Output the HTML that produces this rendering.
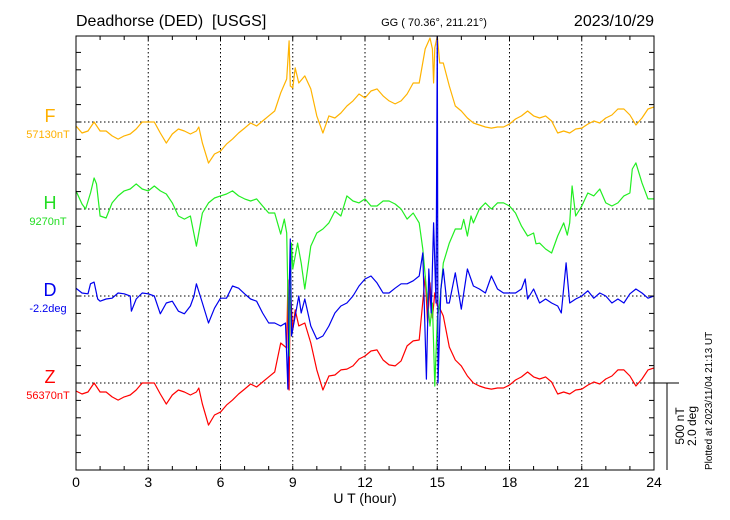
<!DOCTYPE html>
<html><head><meta charset="utf-8"><style>
html,body{margin:0;padding:0;background:#fff;}
svg{display:block;font-family:"Liberation Sans",sans-serif;}
</style></head><body>
<svg id="chart" width="730" height="520" viewBox="0 0 730 520">
<text x="76" y="26" font-size="16" xml:space="preserve" style="white-space:pre">Deadhorse (DED)  [USGS]</text>
<text x="434" y="26" font-size="11" text-anchor="middle">GG ( 70.36°, 211.21°)</text>
<text x="654" y="26" font-size="16" text-anchor="end">2023/10/29</text>
<g id="grid"></g>
<defs><clipPath id="clip"><rect x="76" y="36" width="578" height="434"/></clipPath></defs>
<g id="series" clip-path="url(#clip)"></g>
<rect x="76" y="36" width="578" height="434" fill="none" stroke="#000" stroke-width="1"/>
<g id="ticks"></g>
<text x="50" y="122" font-size="18" fill="#ffb000" text-anchor="middle">F</text>
<text x="48" y="138" font-size="11" fill="#ffb000" text-anchor="middle">57130nT</text>
<text x="50" y="209" font-size="18" fill="#22dd22" text-anchor="middle">H</text>
<text x="48" y="225" font-size="11" fill="#22dd22" text-anchor="middle">9270nT</text>
<text x="50" y="296" font-size="18" fill="#0000ee" text-anchor="middle">D</text>
<text x="48" y="312" font-size="11" fill="#0000ee" text-anchor="middle">-2.2deg</text>
<text x="50" y="383" font-size="18" fill="#ff0000" text-anchor="middle">Z</text>
<text x="48" y="399" font-size="11" fill="#ff0000" text-anchor="middle">56370nT</text>
<text x="365" y="503" font-size="14" text-anchor="middle">U T (hour)</text>
<g>
<line x1="654" y1="383" x2="679" y2="383" stroke="#000"/>
<line x1="667" y1="383" x2="667" y2="470" stroke="#000"/>
<text transform="translate(684,426) rotate(-90)" font-size="12" text-anchor="middle">500 nT</text>
<text transform="translate(696,426) rotate(-90)" font-size="12" text-anchor="middle">2.0 deg</text>
</g>
<text transform="translate(712,470) rotate(-90)" font-size="10">Plotted at 2023/11/04 21:13 UT</text>
</svg>
<script>
const xTicks=[0,3,6,9,12,15,18,21,24];
const fT=[0,.25,.5,.75,1,1.25,1.5,1.75,2,2.25,2.5,2.75,3,3.25,3.5,3.75,4,4.25,4.5,4.75,5,5.1,5.25,5.5,5.75,6,6.25,6.5,6.75,7,7.25,7.5,7.75,8,8.25,8.5,8.75,8.85,8.9,9,9.1,9.25,9.5,9.75,10,10.25,10.5,10.75,11,11.25,11.5,11.75,12,12.25,12.5,12.75,13,13.25,13.5,13.75,14,14.25,14.5,14.7,14.8,14.85,14.9,15,15.1,15.25,15.5,15.75,16,16.25,16.5,16.75,17,17.25,17.5,17.75,18,18.25,18.5,18.75,19,19.25,19.5,19.75,20,20.25,20.5,20.75,21,21.25,21.5,21.75,22,22.25,22.5,22.75,23,23.25,23.5,23.75,24];
const fV=[-23,-63,-52,0,-52,-52,-80,-98,-80,-69,-40,0,0,0,-63,-121,-69,-40,-52,-69,-52,-29,-121,-236,-184,-167,-127,-98,-63,-35,-6,-23,6,35,63,167,247,466,207,196,311,224,265,190,35,-63,35,23,52,92,121,161,138,178,190,150,121,104,121,161,224,224,420,483,420,224,426,495,339,339,207,92,63,23,-6,-17,-29,-35,-29,-29,-12,17,35,63,35,23,35,6,-63,-52,-63,-40,-35,-12,6,-6,23,40,75,75,40,-17,23,75,86];
const hT=[0,.25,.4,.6,.75,.85,1,1.25,1.5,1.75,2,2.25,2.5,2.75,3,3.25,3.5,3.75,4,4.25,4.5,4.75,5,5.25,5.5,5.75,6,6.25,6.5,6.75,7,7.25,7.5,7.75,8,8.25,8.5,8.65,8.75,8.85,8.95,9,9.2,9.35,9.5,9.75,10,10.25,10.5,10.75,11,11.25,11.5,11.75,12,12.25,12.5,12.75,13,13.25,13.5,13.75,14,14.25,14.4,14.55,14.7,14.8,14.9,15,15.1,15.25,15.5,15.75,16,16.1,16.25,16.4,16.5,16.75,17,17.25,17.5,17.75,18,18.25,18.5,18.75,19,19.1,19.25,19.5,19.75,20,20.25,20.4,20.5,20.6,20.75,21,21.25,21.5,21.75,22,22.25,22.5,22.75,23,23.1,23.25,23.5,23.75,24];
const hV=[104,29,0,92,178,144,-40,-52,35,75,104,115,144,115,104,132,104,86,35,-40,-58,-40,-213,-23,35,63,75,86,104,75,58,46,58,17,-23,-23,-144,-58,-138,-845,-196,-345,-196,-311,-460,-213,-138,-115,-80,-12,-40,75,46,35,58,17,17,46,46,29,0,-58,-23,-80,-230,-460,-673,-541,-1018,-633,-541,-311,-196,-115,-115,-60,-155,-40,-80,0,35,0,35,35,17,-23,-98,-155,-138,-200,-196,-230,-253,-155,-80,-150,-80,132,-40,17,92,75,115,35,17,35,75,92,230,265,150,58,58];
const dT=[0,.25,.5,.6,.75,.9,1,1.25,1.5,1.75,2,2.25,2.3,2.5,2.75,3,3.25,3.5,3.75,4,4.25,4.5,4.75,4.9,5,5.25,5.5,5.75,6,6.25,6.5,6.75,7,7.25,7.5,7.75,8,8.25,8.5,8.7,8.8,8.85,8.9,8.95,9.1,9.25,9.35,9.5,9.75,10,10.25,10.5,10.75,11,11.25,11.5,11.75,12,12.25,12.5,12.75,13,13.25,13.5,13.75,14,14.25,14.4,14.55,14.65,14.75,14.85,14.95,15,15.03,15.15,15.25,15.4,15.5,15.75,16,16.25,16.5,16.75,17,17.25,17.5,17.75,18,18.25,18.5,18.65,18.75,19,19.25,19.5,19.75,20,20.15,20.35,20.5,20.75,21,21.25,21.5,21.75,22,22.25,22.5,22.75,23,23.25,23.5,23.75,24];
const dV=[.18,.07,.05,.28,.32,-.07,-.12,-.07,-.05,.07,.05,0,-.35,-.07,.07,.05,0,-.41,-.16,-.12,-.35,-.41,-.23,0,.28,-.16,-.62,-.28,-.05,-.05,.23,.18,.05,-.07,-.12,-.39,-.62,-.62,-.69,-.62,-2.14,0,1.31,-.92,-.46,0,-.39,-.07,-.69,-.99,-.92,-.69,-.39,-.23,-.16,0,.23,.39,.46,.3,.07,.07,.18,.28,.28,.35,.46,.99,-1.91,.62,-.39,1.68,-.16,6.0,-2.0,.16,.62,-.16,-.16,.53,-.3,.62,.23,.16,.07,.46,.16,.07,.07,.07,.16,.39,-.07,.16,-.16,-.07,-.16,-.23,-.39,.76,-.16,-.07,0,.12,-.05,.07,0,-.16,-.07,-.16,.05,.16,.07,-.05,0];
const zT=[0,.25,.5,.75,1,1.25,1.5,1.75,2,2.25,2.5,2.75,3,3.25,3.5,3.75,4,4.25,4.5,4.75,5,5.1,5.25,5.5,5.75,6,6.25,6.5,6.75,7,7.25,7.5,7.75,8,8.25,8.5,8.75,8.8,8.85,8.9,9,9.1,9.25,9.5,9.75,10,10.25,10.5,10.75,11,11.25,11.5,11.75,12,12.25,12.5,12.75,13,13.25,13.5,13.75,14,14.25,14.5,14.6,14.7,14.8,14.9,15,15.1,15.25,15.5,15.75,16,16.25,16.5,16.75,17,17.25,17.5,17.75,18,18.25,18.5,18.75,19,19.25,19.5,19.75,20,20.25,20.5,20.75,21,21.25,21.5,21.75,22,22.25,22.5,22.75,23,23.25,23.5,23.75,24];
const zV=[-46,-63,-52,0,-52,-52,-80,-98,-80,-69,-40,0,0,0,-63,-121,-69,-40,-52,-69,-52,-29,-121,-242,-184,-167,-127,-98,-63,-35,-6,-23,6,35,63,230,201,592,-40,535,305,420,328,345,230,75,-40,40,46,75,80,98,138,155,184,190,132,104,98,127,213,242,247,615,345,575,374,518,443,431,385,207,132,98,40,0,-17,-29,-35,-29,-29,-12,17,35,63,35,23,35,6,-63,-52,-63,-40,-35,-12,6,-6,23,40,75,75,40,-17,23,75,86];
const X0=76,PXH=578/24,PXNT=87/500,PXDEG=87/2;
function xs(h){return X0+h*PXH;}
function ynt(base,v){return base-v*PXNT;}
function ydeg(base,v){return base-v*PXDEG;}
const NS='http://www.w3.org/2000/svg';
const grid=document.getElementById('grid'),ticks=document.getElementById('ticks'),series=document.getElementById('series'),svg=document.getElementById('chart');
function mk(tag,attrs,parent){const e=document.createElementNS(NS,tag);for(const k in attrs)e.setAttribute(k,attrs[k]);parent.appendChild(e);return e;}
xTicks.forEach(h=>{
  if(h>0&&h<24){const g=mk('line',{x1:xs(h),y1:36,x2:xs(h),y2:470,stroke:'#000','stroke-dasharray':'1.5,2.5'},grid);
  
  }
  const t=mk('text',{x:xs(h),y:487,'font-size':14,'text-anchor':'middle'},svg);
  
  
  t.textContent=h;
});
[122,209,296,383].forEach(b=>{const g=mk('line',{x1:76,y1:b,x2:654,y2:b,stroke:'#000','stroke-dasharray':'1.5,2.5'},grid);
  
  });
for(let h=1;h<24;h++){[[36,40],[470,466]].forEach(p=>{const l=mk('line',{x1:xs(h),y1:p[0],x2:xs(h),y2:p[1],stroke:'#000'},ticks);
  
  });}
for(let i=1;i<25;i++){const y=470-i*17.4;if(y<37)break;[[76,81],[654,649]].forEach(p=>{const l=mk('line',{x1:p[0],y1:y,x2:p[1],y2:y,stroke:'#000'},ticks);
  
  });}
function draw(T,V,yfn,base,color,name){
  const d=T.map((t,i)=>(i?'L':'M')+xs(t).toFixed(1)+','+yfn(base,V[i]).toFixed(1)).join('');
  const p=mk('path',{d:d,fill:'none',stroke:color,'stroke-width':1.2,'stroke-linejoin':'round'},series);
  
  
}
draw(fT,fV,ynt,122,'#ffb300','f-series');
draw(zT,zV,ynt,383,'#ff0000','z-series');
draw(hT,hV,ynt,209,'#22ee22','h-series');
draw(dT,dV,ydeg,296,'#0000ee','d-series');
</script>
</body></html>
